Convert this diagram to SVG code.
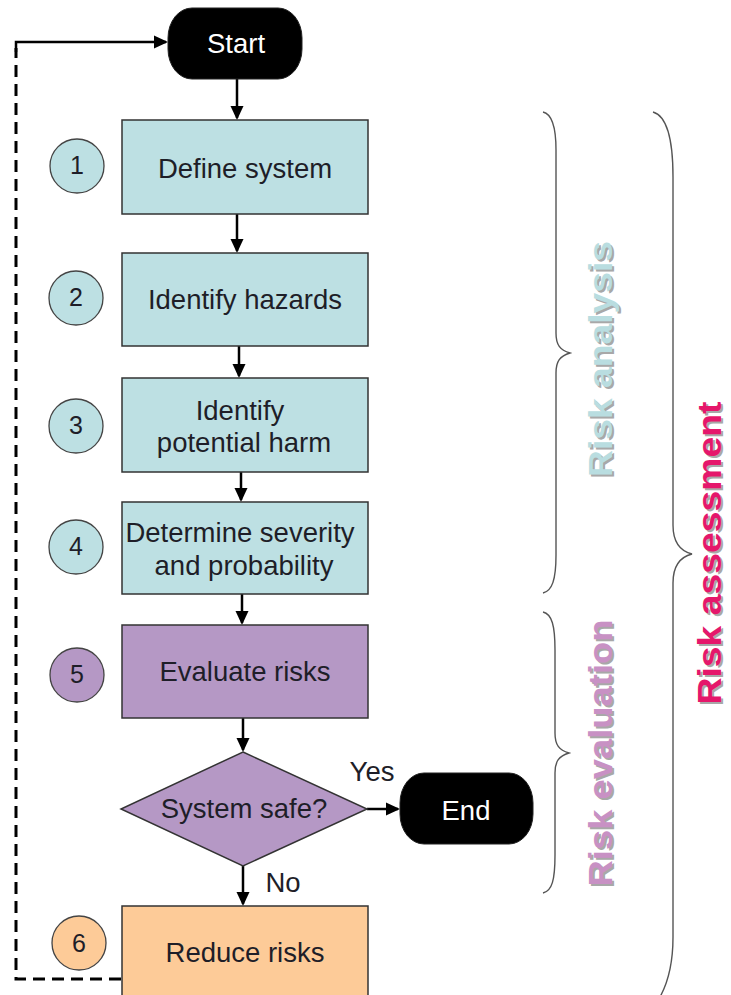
<svg xmlns="http://www.w3.org/2000/svg" width="731" height="995" viewBox="0 0 731 995">
<style>
  .lbl{font-family:"Liberation Sans",Arial,sans-serif;font-size:27.5px;fill:#1e1e28;text-anchor:middle}
  .num{font-family:"Liberation Sans",Arial,sans-serif;font-size:25px;fill:#1e1e28;text-anchor:middle}
  .term{fill:#000;stroke:#222;stroke-width:1}
  .termtxt{font-family:"Liberation Sans",Arial,sans-serif;font-size:27.5px;fill:#fff;text-anchor:middle}
  .teal{fill:#bde0e3;stroke:#333;stroke-width:1.5}
  .purple{fill:#b598c5;stroke:#333;stroke-width:1.5}
  .orange{fill:#fdcb98;stroke:#333;stroke-width:1.5}
  .cteal{fill:#bde0e3;stroke:#444;stroke-width:1.3}
  .cpurple{fill:#b598c5;stroke:#444;stroke-width:1.3}
  .corange{fill:#fdcb98;stroke:#444;stroke-width:1.3}
  .conn{stroke:#000;stroke-width:2.5;fill:none}
  .dash{stroke:#000;stroke-width:3;fill:none;stroke-dasharray:12 7}
  .brace{stroke:#555;stroke-width:1.4;fill:none}
  .side{font-family:"Liberation Sans",Arial,sans-serif;font-weight:bold;text-anchor:middle}
  .shadow{fill:#a8a8a8}
</style>
<defs>
  <marker id="arr" markerUnits="userSpaceOnUse" markerWidth="14" markerHeight="14" viewBox="0 0 14 14" refX="12" refY="7" orient="auto">
    <path d="M0,0.5 L14,7 L0,13.5 z" fill="#000"/>
  </marker>
</defs>

<g id="connectors">
  <line class="conn" x1="237" y1="79" x2="237" y2="118" marker-end="url(#arr)"/>
  <line class="conn" x1="237" y1="214" x2="237" y2="251" marker-end="url(#arr)"/>
  <line class="conn" x1="239" y1="346" x2="239" y2="376" marker-end="url(#arr)"/>
  <line class="conn" x1="241" y1="472" x2="241" y2="500" marker-end="url(#arr)"/>
  <line class="conn" x1="242" y1="594" x2="242" y2="623" marker-end="url(#arr)"/>
  <line class="conn" x1="243" y1="718" x2="243" y2="750" marker-end="url(#arr)"/>
  <line class="conn" x1="367" y1="809" x2="398" y2="809" marker-end="url(#arr)"/>
  <line class="conn" x1="243" y1="866" x2="243" y2="904" marker-end="url(#arr)"/>
  <path class="dash" d="M121,979 H16 V48"/>
  <path class="conn" d="M16,52 V42 H166" stroke-width="3" marker-end="url(#arr)"/>
</g>

<g id="start">
  <rect class="term" x="168" y="8" width="134" height="71" rx="24" ry="30"/>
  <text class="termtxt" x="236" y="53">Start</text>
</g>

<g id="step1">
  <rect class="teal" x="122" y="120" width="246" height="94"/>
  <text class="lbl" x="245" y="178">Define system</text>
  <circle class="cteal" cx="77" cy="166" r="27"/>
  <text class="num" x="77" y="174">1</text>
</g>

<g id="step2">
  <rect class="teal" x="122" y="253" width="246" height="93"/>
  <text class="lbl" x="245" y="309">Identify hazards</text>
  <circle class="cteal" cx="76" cy="298" r="27"/>
  <text class="num" x="76" y="306">2</text>
</g>

<g id="step3">
  <rect class="teal" x="122" y="378" width="246" height="94"/>
  <text class="lbl" x="240" y="420">Identify</text>
  <text class="lbl" x="244" y="452">potential harm</text>
  <circle class="cteal" cx="76" cy="426" r="27"/>
  <text class="num" x="76" y="434">3</text>
</g>

<g id="step4">
  <rect class="teal" x="122" y="502" width="246" height="92"/>
  <text class="lbl" x="240" y="542">Determine severity</text>
  <text class="lbl" x="244" y="575">and probability</text>
  <circle class="cteal" cx="76" cy="547" r="27"/>
  <text class="num" x="76" y="555">4</text>
</g>

<g id="step5">
  <rect class="purple" x="122" y="625" width="246" height="93"/>
  <text class="lbl" x="245" y="681">Evaluate risks</text>
  <circle class="cpurple" cx="77" cy="675" r="27"/>
  <text class="num" x="77" y="683">5</text>
</g>

<g id="decision">
  <polygon class="purple" points="243,752 367,809 243,866 121,809"/>
  <text class="lbl" x="244" y="818">System safe?</text>
</g>

<g id="labels">
  <text class="lbl" x="372" y="781">Yes</text>
  <text class="lbl" x="283" y="892">No</text>
</g>

<g id="end">
  <rect class="term" x="400" y="773" width="133" height="71" rx="24" ry="30"/>
  <text class="termtxt" x="466" y="820">End</text>
</g>

<g id="step6">
  <rect class="orange" x="122" y="906" width="246" height="100"/>
  <text class="lbl" x="245" y="962">Reduce risks</text>
  <circle class="corange" cx="79" cy="943" r="27"/>
  <text class="num" x="79" y="952">6</text>
</g>

<g id="risk-analysis">
  <path class="brace" d="M543,112 C552,114 556,126 556,150 L556,333 C556,345 560,350 570,353 C560,356 556,361 556,373 L556,555 C556,580 552,591 543,593"/>
  <text class="side shadow" transform="translate(614,361) rotate(-90)" font-size="33" textLength="236" lengthAdjust="spacingAndGlyphs">Risk analysis</text>
  <text class="side" transform="translate(612,359) rotate(-90)" font-size="33" fill="#b9dde0" textLength="236" lengthAdjust="spacingAndGlyphs">Risk analysis</text>
</g>

<g id="risk-evaluation">
  <path class="brace" d="M543,612 C552,614 555,626 555,650 L555,733 C555,745 559,750 569,753 C559,756 555,761 555,773 L555,855 C555,880 552,891 543,893"/>
  <text class="side shadow" transform="translate(614,755) rotate(-90)" font-size="33" textLength="267" lengthAdjust="spacingAndGlyphs">Risk evaluation</text>
  <text class="side" transform="translate(612,753) rotate(-90)" font-size="33" fill="#c891c4" textLength="267" lengthAdjust="spacingAndGlyphs">Risk evaluation</text>
</g>

<g id="risk-assessment">
  <path class="brace" d="M653,112 C667,116 673,140 673,177 L673,525 C673,543 680,551 692,554 C680,557 673,565 673,583 L673,937 C673,965 668,985 657,1002"/>
  <text class="side shadow" transform="translate(723,555) rotate(-90)" font-size="33" textLength="303" lengthAdjust="spacingAndGlyphs">Risk assessment</text>
  <text class="side" transform="translate(721,553) rotate(-90)" font-size="33" fill="#e5176b" textLength="303" lengthAdjust="spacingAndGlyphs">Risk assessment</text>
</g>
</svg>
